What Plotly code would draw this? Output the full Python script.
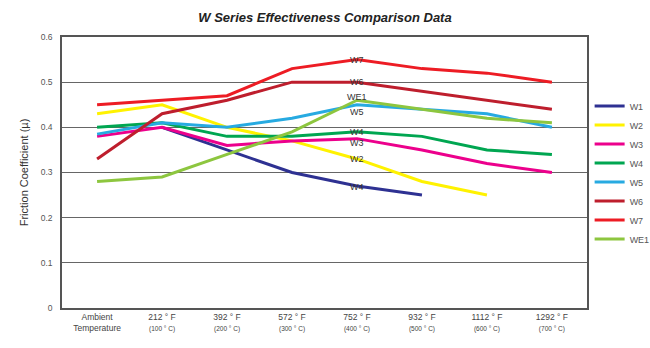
import plotly.graph_objects as go

categories = ["Ambient", "212", "392", "572", "752", "932", "1112", "1292"]
tick_f = ["212 ° F", "392 ° F", "572 ° F", "752 ° F", "932 ° F", "1112 ° F", "1292 ° F"]
tick_c = ["(100 ° C)", "(200 ° C)", "(300 ° C)", "(400 ° C)", "(500 ° C)", "(600 ° C)", "(700 ° C)"]

series_names = ["W1", "W2", "W3", "W4", "W5", "W6", "W7", "WE1"]
W1 = [None, 0.40, 0.35, 0.30, 0.27, 0.25, None, None]
W2 = [0.43, 0.45, 0.40, 0.37, 0.33, 0.28, 0.25, None]
W3 = [0.38, 0.40, 0.36, 0.37, 0.375, 0.35, 0.32, 0.30]
W4 = [0.40, 0.41, 0.38, 0.38, 0.39, 0.38, 0.35, 0.34]
W5 = [0.385, 0.41, 0.40, 0.42, 0.45, 0.44, 0.43, 0.40]
W6 = [0.33, 0.43, 0.46, 0.50, 0.50, 0.48, 0.46, 0.44]
W7 = [0.45, 0.46, 0.47, 0.53, 0.55, 0.53, 0.52, 0.50]
WE1 = [0.28, 0.29, 0.34, 0.39, 0.46, 0.44, 0.42, 0.41]
values = [W1, W2, W3, W4, W5, W6, W7, WE1]
colors = ["#2e3192", "#fff200", "#ec008c", "#00a651", "#27aae1", "#be1e2d", "#ed1c24", "#8dc63f"]

# inline labels at 752 °F
label_texts = ["W7", "W6", "WE1", "W5", "W4", "W3", "W2", "W4"]
label_vals = [0.55, 0.50, 0.468, 0.435, 0.39, 0.365, 0.33, 0.267]

fig = go.Figure()
for name, vals, col in zip(series_names, values, colors):
    fig.add_trace(go.Scatter(
        x=list(range(len(categories))), y=vals, name=name, mode="lines",
        line=dict(color=col, width=3), connectgaps=False,
    ))

for t, v in zip(label_texts, label_vals):
    fig.add_annotation(x=4, y=v, text=t, showarrow=False,
                       font=dict(family="Liberation Sans, Arial", size=9, color="#333333"))

ticktext = ["Ambient<br>Temperature"] + [
    f"{f}<br><span style='font-size:6.5px'>{c}</span>" for f, c in zip(tick_f, tick_c)
]

fig.update_layout(
    width=650, height=348,
    margin=dict(l=62, r=63, t=37, b=40, autoexpand=False),
    paper_bgcolor="white", plot_bgcolor="white",
    title=dict(text="<b><i>W Series Effectiveness Comparison Data</i></b>",
               x=0.5, xanchor="center", y=0.95, yanchor="middle",
               font=dict(family="Liberation Sans, Arial", size=13, color="#222222")),
    font=dict(family="Liberation Sans, Arial", size=9, color="#555555"),
    showlegend=True,
    legend=dict(x=1.005, xanchor="left", y=0.5, yanchor="middle",
                font=dict(size=9, color="#555555"),
                tracegroupgap=0, itemwidth=30, bgcolor="rgba(0,0,0,0)"),
    xaxis=dict(
        tickmode="array", tickvals=list(range(len(categories))), ticktext=ticktext,
        range=[-0.54, 7.54], showgrid=False, zeroline=False,
        showline=True, linecolor="#555555", linewidth=1.5, mirror=True,
        ticks="", tickfont=dict(size=8.5, color="#444444"),
    ),
    yaxis=dict(
        range=[0, 0.6], tickvals=[0, 0.1, 0.2, 0.3, 0.4, 0.5, 0.6],
        ticktext=["0", "0.1", "0.2", "0.3", "0.4", "0.5", "0.6"],
        showgrid=True, gridcolor="#666666", gridwidth=1, zeroline=False,
        showline=True, linecolor="#555555", linewidth=1.5, mirror=True,
        ticks="outside", ticklen=6, tickcolor="white",
        tickfont=dict(size=8.5, color="#555555"),
        title=dict(text="Friction Coefficient (µ)", font=dict(size=11, color="#333333"), standoff=10),
    ),
)

fig.write_html("out.html")
